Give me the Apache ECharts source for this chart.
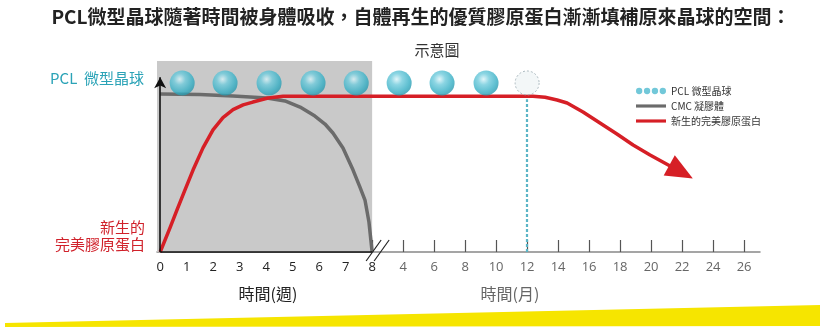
<!DOCTYPE html>
<html><head><meta charset="utf-8">
<script src="https://cdn.jsdelivr.net/npm/echarts@6/dist/echarts.min.js"></script>
<style>html,body{margin:0;padding:0;background:#fff}#c{width:826px;height:333px}</style>
</head><body><div id="c"></div>
<script>
// Axis units: weeks 0..8 linear; after the break the scale continues in months (week 8 ≈ month 2)
const MONTH_UNIT = 0.585;           // axis units per month after the break
const weekTicks = [0,1,2,3,4,5,6,7,8];
const monthTicks = [4,6,8,10,12,14,16,18,20,22,24,26];
const ballX = [0.83,2.45,4.11,5.77,7.40,9.02,10.64,12.30];
const ballLevel = 0.885;
const crushedMonth = 12;
const cmcX = [0, 1.5, 2.75, 4.03, 4.71, 5.28, 5.84, 6.22, 6.52, 6.90, 7.28, 7.54, 7.73, 7.88, 8.0];
const cmcY = [0.827,0.825,0.817,0.806,0.791,0.759,0.712,0.670,0.623,0.545,0.429,0.340,0.272,0.157,0];
const collX = [0,0.37,0.635,0.937,1.24,1.616,1.994,2.37,2.75,3.13,3.50,4.07,4.64,10,14.07,14.53,14.98,15.36,15.96,16.6,17.24,17.85,18.49,19.66];
const collY = [0,0.126,0.220,0.325,0.429,0.545,0.639,0.703,0.745,0.770,0.785,0.806,0.815,0.815,0.815,0.810,0.796,0.780,0.733,0.675,0.618,0.560,0.508,0.419];
const titleText = 'PCL微型晶球隨著時間被身體吸收，自體再生的優質膠原蛋白漸漸填補原來晶球的空間：';

const mToU = m => 8 + (m - 2) * MONTH_UNIT;
const monthU = monthTicks.map(mToU);
const FONT = '"Open Sans","Noto Sans CJK TC",sans-serif';
const CJK = '"Noto Sans CJK TC",sans-serif';
const XMIN = -0.12, XMAX = 22.64;

const chart = echarts.init(document.getElementById('c'));
const ballGrad = {type:'radial',x:0.4,y:0.35,r:0.65,colorStops:[
  {offset:0,color:'#d9f3f8'},{offset:0.35,color:'#6fcbdc'},{offset:0.8,color:'#34aec4'},{offset:1,color:'#2a9bb0'}]};
const fourDots = 'path://M0,4a4,4 0 1,0 8,0a4,4 0 1,0 -8,0M10,4a4,4 0 1,0 8,0a4,4 0 1,0 -8,0M20,4a4,4 0 1,0 8,0a4,4 0 1,0 -8,0M30,4a4,4 0 1,0 8,0a4,4 0 1,0 -8,0Z';
const barIcon = 'path://M0,0H38V4H0Z';

const baseX = {type:'value', min:XMIN, max:XMAX, position:'bottom', splitLine:{show:false}};
chart.setOption({
  animation:false,
  grid:{left:157, right:826-760, top:61, bottom:81},
  legend:{
    orient:'vertical', left:631, top:81, itemWidth:30, itemHeight:8, itemGap:5, symbolKeepAspect:true,
    textStyle:{fontSize:10, color:'#333', fontFamily:CJK},
    data:[{name:'PCL 微型晶球', icon:fourDots, itemStyle:{color:'#4fbad0'}},
          {name:'CMC 凝膠體', icon:barIcon, itemStyle:{color:'#6b6b6b'}},
          {name:'新生的完美膠原蛋白', icon:barIcon, itemStyle:{color:'#d61f26'}}]
  },
  xAxis:[
    Object.assign({}, baseX, {
      axisLine:{show:false},
      axisTick:{show:true, inside:true, length:12, customValues:weekTicks, lineStyle:{color:'#222', width:1.2}},
      axisLabel:{show:true, customValues:weekTicks, formatter:v=>String(Math.round(v)), color:'#222', fontSize:13, margin:9, fontFamily:FONT}
    }),
    Object.assign({}, baseX, {
      axisLine:{show:true, lineStyle:{color:'#888', width:1.5}},
      axisTick:{show:true, inside:true, length:12, customValues:monthU, lineStyle:{color:'#555', width:1.2}},
      axisLabel:{show:true, customValues:monthU, formatter:v=>{const i=monthU.findIndex(u=>Math.abs(u-v)<1e-6);return i>=0?String(monthTicks[i]):'';}, color:'#666', fontSize:13, margin:9, fontFamily:FONT}
    })
  ],
  yAxis:{type:'value', min:0, max:1, show:false},
  series:[
    {type:'line', name:'_area', data:[], z:0, silent:true,
     markArea:{silent:true, itemStyle:{color:'#c9c9c9'}, data:[[{xAxis:XMIN,yAxis:0},{xAxis:8,yAxis:1}]]}},
    {type:'line', name:'_axes', data:[], z:5, silent:true,
     markLine:{silent:true, symbol:['none','arrow'], symbolSize:[9,11], label:{show:false},
       data:[[{coord:[0,0], lineStyle:{color:'#111', width:1.6, type:'solid'}},{coord:[0,0.915]}]]}},
    {type:'line', name:'_xaxisLeft', data:[], z:4, silent:true,
     markLine:{silent:true, symbol:['none','none'], label:{show:false},
       data:[[{coord:[0,0], lineStyle:{color:'#111', width:1.6, type:'solid'}},{coord:[8,0]}]]}},
    {type:'line', name:'CMC 凝膠體', data:cmcX.map((x,i)=>[x,cmcY[i]]), smooth:false, symbol:'none', z:3,
     lineStyle:{color:'#6b6b6b', width:3.5, join:'round'}, itemStyle:{color:'#6b6b6b'}},
    {type:'line', name:'新生的完美膠原蛋白', z:4, smooth:false, symbol:'none',
     lineStyle:{color:'#d61f26', width:3.5, join:'round'}, itemStyle:{color:'#d61f26'},
     data:collX.map((x,i)=> i===collX.length-1
        ? {value:[x,collY[i]], symbol:'triangle', symbolSize:[23,27], symbolRotate:-119, itemStyle:{color:'#d61f26'}}
        : [x,collY[i]]),
     showSymbol:true,
     markLine:{silent:true, symbol:['none','none'], label:{show:false},
       lineStyle:{color:'#5bb5c6', width:2.2, type:[3,2]},
       data:[[{coord:[mToU(crushedMonth),0]},{coord:[mToU(crushedMonth),0.80]}]]}},
    {type:'scatter', name:'PCL 微型晶球', z:6, symbolSize:25, data:ballX.map(x=>[x,ballLevel]),
     itemStyle:{color:ballGrad}},
    {type:'scatter', name:'_crushed', z:6, symbolSize:24, data:[[mToU(crushedMonth),ballLevel]],
     itemStyle:{color:'rgba(225,234,238,0.5)', borderColor:'#9aaab2', borderWidth:1, borderType:[2,2]}}
  ]
});

const p8 = chart.convertToPixel({xAxisIndex:0,yAxisIndex:0},[8,0]);
chart.setOption({graphic:[
  {type:'polygon', z:-1, shape:{points:[[5,323],[820,305],[820,326],[5,327]]}, style:{fill:'#f6e500'}},
  {type:'text', x:421, y:17, style:{text:titleText, font:'bold 19px '+CJK, fill:'#222', align:'center', verticalAlign:'middle'}},
  {type:'text', x:437, y:50, style:{text:'示意圖', font:'15px '+CJK, fill:'#333', align:'center', verticalAlign:'middle'}},
  {type:'text', x:144, y:78, style:{text:'PCL  微型晶球', font:'15px '+CJK, fill:'#2ba3b7', align:'right', verticalAlign:'middle'}},
  {type:'text', x:145, y:227, style:{text:'新生的', font:'15px '+CJK, fill:'#d0212a', align:'right', verticalAlign:'middle'}},
  {type:'text', x:145, y:244, style:{text:'完美膠原蛋白', font:'15px '+CJK, fill:'#d0212a', align:'right', verticalAlign:'middle'}},
  {type:'text', x:318, y:207, style:{text:'CMC 凝膠體', font:'14px '+CJK, fill:'#222', align:'center', verticalAlign:'middle'}},
  {type:'text', x:268, y:294, style:{text:'時間(週)', font:'16px '+CJK, fill:'#222', align:'center', verticalAlign:'middle'}},
  {type:'text', x:510, y:294, style:{text:'時間(月)', font:'16px '+CJK, fill:'#666', align:'center', verticalAlign:'middle'}},
  {type:'line', z:10, shape:{x1:p8[0]-6,y1:p8[1]+9,x2:p8[0]+9,y2:p8[1]-12}, style:{stroke:'#222', lineWidth:1.2}},
  {type:'line', z:10, shape:{x1:p8[0]+2,y1:p8[1]+9,x2:p8[0]+17,y2:p8[1]-12}, style:{stroke:'#222', lineWidth:1.2}}
]});
</script></body></html>
